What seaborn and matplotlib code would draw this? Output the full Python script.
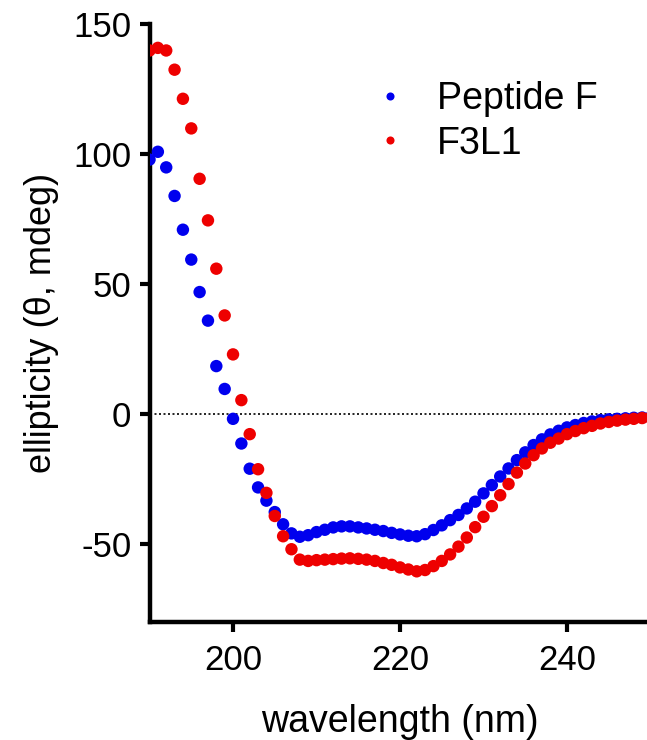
import numpy as np
import pandas as pd
import matplotlib
matplotlib.use("Agg")
import matplotlib.pyplot as plt
import seaborn as sns

# wavelength grid (nm) and CD readings
wavelength = list(range(190, 251))

peptide_f = [98, 101, 95, 84, 71, 59.5, 47, 36, 18.5, 9.7,
             -1.8, -11.3, -21, -28.2, -33.3, -37.7, -42.4, -45.9, -47.2, -46.6,
             -45.4, -44.5, -43.6, -43.2, -43.2, -43.6, -44.0, -44.5, -45.0, -45.7,
             -46.3, -46.8, -47.0, -46.2, -44.6, -42.8, -40.8, -38.8, -36.3, -33.7,
             -30.5, -27.3, -24.0, -20.9, -17.7, -14.7, -11.9, -9.7, -7.8, -6.4,
             -5.1, -4.2, -3.4, -2.8, -2.3, -2.0, -1.8, -1.6, -1.4, -1.3, -1.2]

f3l1 = [140, 141, 140, 132.6, 121.4, 110, 90.6, 74.6, 56, 38,
        23, 5.4, -7.7, -21.2, -30.3, -39.2, -47, -52, -56, -56.5,
        -56.2, -56.0, -55.8, -55.6, -55.5, -55.7, -56.0, -56.5, -57.3, -58.0,
        -59.0, -59.8, -60.5, -60.0, -58.5, -56.5, -54.0, -51.0, -47.5, -43.5,
        -39.5, -35.4, -31.2, -26.9, -22.5, -19.0, -15.8, -13.2, -11.0, -9.4,
        -7.7, -6.5, -5.4, -4.5, -3.6, -3.0, -2.5, -2.1, -1.8, -1.5, -1.3]

series_names = ["Peptide F", "F3L1"]

df = pd.concat([
    pd.DataFrame({"wl": wavelength, "theta": peptide_f, "sample": series_names[0]}),
    pd.DataFrame({"wl": wavelength, "theta": f3l1, "sample": series_names[1]}),
])

sns.set_style("ticks")
plt.rcParams['font.family'] = ['Liberation Sans', 'DejaVu Sans']
plt.rcParams['axes.unicode_minus'] = False
plt.rcParams['text.color'] = 'black'
plt.rcParams['axes.labelcolor'] = 'black'
plt.rcParams['xtick.color'] = 'black'
plt.rcParams['ytick.color'] = 'black'
plt.rcParams['axes.edgecolor'] = 'black'

fig = plt.figure(figsize=(6.47, 7.4), dpi=100)
ax = fig.add_axes([0.2311, 0.1595, 0.7743, 0.8074])

ax.axhline(0, color='black', ls=(0, (1.2, 1.5)), lw=1.2, zorder=1)

sns.scatterplot(data=df, x="wl", y="theta", hue="sample",
                palette={"Peptide F": "#0000ee", "F3L1": "#ee0000"},
                s=80, linewidth=0, ax=ax, zorder=3)

ax.set_xlim(190, 250)
ax.set_ylim(-80, 150)
ax.set_xticks([200, 220, 240])
ax.set_yticks([-50, 0, 50, 100, 150])

sns.despine(ax=ax)
for sp in ["left", "bottom"]:
    ax.spines[sp].set_linewidth(3.2)
ax.tick_params(axis='both', length=7, width=3, labelsize=25, color='black',
               labelcolor='black')
ax.tick_params(axis='x', pad=9)
ax.tick_params(axis='y', pad=6)

ax.set_xlabel("wavelength (nm)", fontsize=27, labelpad=19)
ax.set_ylabel("ellipticity (θ, mdeg)", fontsize=26, labelpad=10)

leg = ax.legend(loc='upper left', bbox_to_anchor=(0.375, 0.93), frameon=False,
                fontsize=27, handletextpad=0.25, labelspacing=0.22,
                markerscale=0.65, borderaxespad=0)
leg.set_title(None)

fig.savefig("out.png", dpi=100)
